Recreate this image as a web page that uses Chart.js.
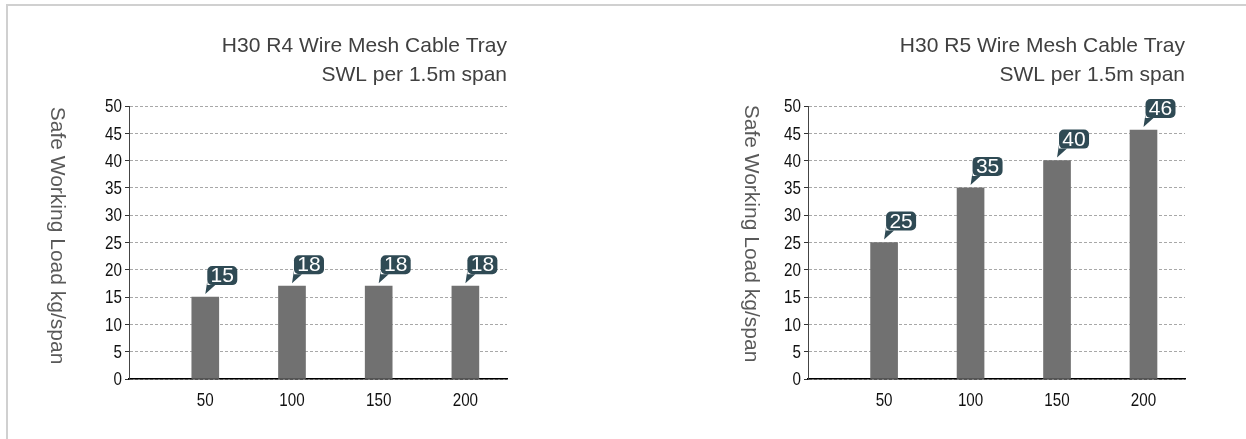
<!DOCTYPE html>
<html>
<head>
<meta charset="utf-8">
<script src="https://cdn.jsdelivr.net/npm/chart.js@4.4.1/dist/chart.umd.min.js"></script>
<style>
  html, body { margin: 0; padding: 0; background: #fff; }
  body { width: 1246px; height: 439px; position: relative; overflow: hidden; }
  .frame { position: absolute; left: 6px; top: 4px; right: -4px; bottom: -4px;
           border-top: 2px solid #d0d0d0; border-left: 2px solid #d0d0d0; }
  .box { position: absolute; top: 0; height: 439px; }
  #box-r4 { left: 0; width: 560px; }
  #box-r5 { left: 620px; width: 626px; }
</style>
</head>
<body>
<div class="frame"></div>
<div class="box" id="box-r4"><canvas id="chart-r4"></canvas></div>
<div class="box" id="box-r5"><canvas id="chart-r5"></canvas></div>

<script>
/* ── DATA ── */
const categories = [50, 100, 150, 200];
const r4Values   = [15, 17, 17, 17];
const r4Labels   = ['15', '18', '18', '18'];
const r5Values   = [25, 35, 40, 45.6];
const r5Labels   = ['25', '35', '40', '46'];
const yMin = 0, yMax = 50, yStep = 5;
const xMin = 6, xMax = 224;

const r4Title  = ['H30 R4 Wire Mesh Cable Tray', 'SWL per 1.5m span'];
const r5Title  = ['H30 R5 Wire Mesh Cable Tray', 'SWL per 1.5m span'];
const yAxisTitle = 'Safe Working Load kg/span';

/* ── STYLE ── */
const SANS   = "'Liberation Sans', Arial, sans-serif";
const BAR_COLOR  = '#717171';
const CALLOUT_BG = '#2f4a54';
const GRID_COLOR = '#a8a8a8';
const NARROW_X = 0.8;   // no narrow font installed, squeeze tick labels instead

/* callout label above each bar */
const calloutPlugin = {
  id: 'callout',
  afterDatasetsDraw(chart) {
    const labels = chart.options.plugins.callout.labels;
    const ctx = chart.ctx;
    const meta = chart.getDatasetMeta(0);
    meta.data.forEach((bar, i) => {
      const left = bar.x + 2, w = 30, h = 19;
      const bottom = bar.y - 12, top = bottom - h;
      ctx.save();
      ctx.fillStyle = CALLOUT_BG;
      ctx.beginPath();
      ctx.roundRect(left, top, w, h, 5);
      ctx.fill();
      ctx.beginPath();
      ctx.moveTo(left, bottom - 4);
      ctx.lineTo(bar.x, bar.y - 3);
      ctx.lineTo(left + 8, bottom);
      ctx.lineTo(left, bottom);
      ctx.closePath();
      ctx.fill();
      ctx.fillStyle = '#fff';
      ctx.font = '21px ' + SANS;
      ctx.textAlign = 'center';
      ctx.textBaseline = 'middle';
      ctx.fillText(labels[i], left + w / 2, top + h / 2 + 1);
      ctx.restore();
    });
  }
};

/* tick labels in a squeezed face, placed by the chart's own scales */
const tickLabelPlugin = {
  id: 'tickLabels',
  afterDraw(chart) {
    const ctx = chart.ctx;
    const a = chart.chartArea;
    const xs = chart.scales.x, ys = chart.scales.y;
    const put = (txt, x, y, align) => {
      ctx.save();
      ctx.translate(x, y);
      ctx.scale(NARROW_X, 1);
      ctx.textAlign = align;
      ctx.fillText(txt, 0, 0);
      ctx.restore();
    };
    ctx.save();
    ctx.fillStyle = '#111';
    ctx.font = '19px ' + SANS;
    ctx.textBaseline = 'middle';
    ys.ticks.forEach(t => put(String(t.value), a.left - 7, ys.getPixelForValue(t.value) + 1, 'right'));
    xs.ticks.forEach(t => put(String(t.value), xs.getPixelForValue(t.value), a.bottom + 22, 'center'));
    ctx.restore();
  }
};

/* vertical axis title, reading top to bottom */
const yTitlePlugin = {
  id: 'yTitle',
  afterDraw(chart) {
    const o = chart.options.plugins.yTitle;
    const ctx = chart.ctx;
    const a = chart.chartArea;
    ctx.save();
    ctx.translate(o.x, (a.top + a.bottom) / 2 + o.dy);
    ctx.rotate(Math.PI / 2);
    ctx.fillStyle = '#595959';
    ctx.font = '21px ' + SANS;
    ctx.textAlign = 'center';
    ctx.textBaseline = 'middle';
    ctx.fillText(yAxisTitle, 0, 0);
    ctx.restore();
  }
};

function makeChart(id, values, labels, title, axisLeft, padRight, yTitleX, yTitleDy) {
  const ctx = document.getElementById(id).getContext('2d');
  return new Chart(ctx, {
    type: 'bar',
    data: {
      datasets: [{
        data: categories.map((c, i) => ({ x: c, y: values[i] })),
        backgroundColor: BAR_COLOR,
        borderWidth: 0,
        barThickness: 27,
      }],
    },
    options: {
      responsive: true, maintainAspectRatio: false, animation: false,
      layout: { padding: { left: 0, right: padRight, top: 0, bottom: 0 } },
      plugins: {
        legend: { display: false },
        tooltip: { enabled: false },
        title: {
          display: true, text: title, align: 'end', fullSize: false,
          color: '#404040',
          font: { family: SANS, size: 21, weight: 'normal', lineHeight: 29 / 21 },
          padding: { top: 31.5, bottom: 16.5 },
        },
        callout: { labels },
        yTitle: { x: yTitleX, dy: yTitleDy },
      },
      scales: {
        x: {
          type: 'linear', min: xMin, max: xMax, offset: false,
          afterBuildTicks: s => { s.ticks = categories.map(v => ({ value: v })); },
          afterFit: s => { s.height = 60; },
          grid: { display: false },
          border: { display: true, color: '#000', width: 1.5 },
          ticks: { display: false },
        },
        y: {
          min: yMin, max: yMax,
          afterFit: s => { s.width = axisLeft; },
          grid: { color: GRID_COLOR, lineWidth: 1, tickLength: 4, tickColor: '#333', tickBorderDash: [] },
          border: { display: true, color: '#444', width: 1, dash: [3, 2] },
          ticks: { display: false, stepSize: yStep },
        },
      },
    },
    plugins: [calloutPlugin, tickLabelPlugin, yTitlePlugin],
  });
}

makeChart('chart-r4', r4Values, r4Labels, r4Title, 129, 53, 56.5, -7);
makeChart('chart-r5', r5Values, r5Labels, r5Title, 188, 61, 131, -9);
</script>
</body>
</html>
